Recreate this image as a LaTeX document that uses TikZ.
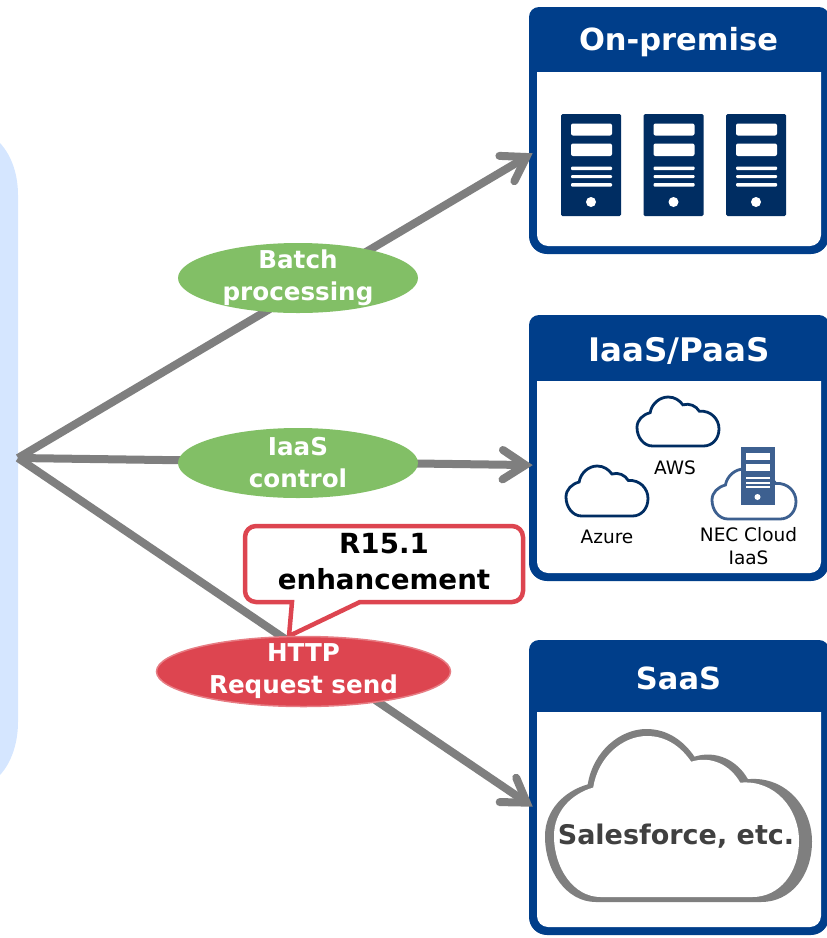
\documentclass[tikz,border=0pt]{standalone}
\usepackage{fontspec}
\setmainfont{DejaVu Sans}
\usetikzlibrary{calc,shapes.geometric}
\definecolor{navy}{HTML}{003E8A}
\definecolor{srv}{HTML}{002D62}
\definecolor{necblue}{HTML}{3D6090}
\definecolor{flow}{HTML}{7F7F7F}
\definecolor{leaf}{HTML}{82BF66}
\definecolor{alert}{HTML}{DD4550}
\definecolor{pale}{HTML}{D5E6FF}
\newcommand{\cloudshape}{(0.19,1) .. controls (0.08,1) and (0,0.82) .. (0,0.62) .. controls (0,0.47) and (0.07,0.36) .. (0.16,0.32) .. controls (0.18,0.13) and (0.28,0) .. (0.38,0) .. controls (0.46,0) and (0.52,0.07) .. (0.56,0.16) .. controls (0.64,0.12) and (0.72,0.18) .. (0.76,0.29) .. controls (0.90,0.27) and (1,0.45) .. (1,0.65) .. controls (1,0.85) and (0.92,1) .. (0.81,1) -- cycle}
\newcommand{\serverbox}[1]{%
  \begin{scope}[shift={(#1,0)}]
    \fill[srv,rounded corners=1.5pt] (561,114) rectangle (621,216);
    \fill[white,rounded corners=2pt] (571,123.5) rectangle (612,135.5);
    \fill[white,rounded corners=2pt] (571,143.5) rectangle (612,156);
    \fill[white,rounded corners=1pt] (571,166.5) rectangle (612,170);
    \fill[white,rounded corners=1pt] (571,175) rectangle (612,178);
    \fill[white,rounded corners=1pt] (571,183) rectangle (612,186.5);
    \fill[white] (591,202) circle (5);
  \end{scope}}
% #1 top of panel, #2 top of white area, #3 bottom of panel
\newcommand{\panelbox}[3]{%
  \fill[navy] (529,#1+10) .. controls (529,#1+4.5) and (533.5,#1) .. (539,#1) -- (819,#1) .. controls (824.5,#1) and (829,#1+4.5) .. (829,#1+10) -- (829,#3-18) .. controls (829,#3-8) and (821,#3) .. (811,#3) -- (547,#3) .. controls (537,#3) and (529,#3-8) .. (529,#3-18) -- cycle;
  \fill[white] (537,#2) -- (821,#2) -- (821,#3-19) .. controls (821,#3-13) and (816,#3-8) .. (810,#3-8) -- (548,#3-8) .. controls (542,#3-8) and (537,#3-13) .. (537,#3-19) -- cycle;}
\tikzset{
  x=1pt,y=-1pt,
  flowline/.style={draw=flow,line width=8pt},
  flowhead/.style={draw=flow,line width=8pt,line cap=round,line join=miter,miter limit=10},
  panelhead/.style={text=white,font=\bfseries\fontsize{30.5}{32}\selectfont,anchor=center},
  oval/.style={ellipse,inner sep=0pt},
  ovaltext/.style={align=center,text=white,inner sep=0pt,font=\bfseries\fontsize{24.6}{32}\selectfont},
  small/.style={font=\fontsize{18.5}{23}\selectfont,align=center,text=black,inner sep=0pt},
  smallcloud/.style={draw=srv,line width=2.8pt,fill=white},
}
\begin{document}
\begin{tikzpicture}
\useasboundingbox (0,0) rectangle (827,938);
% background band
\fill[pale] (0,143) .. controls (12,156) and (18,175) .. (18,195) -- (18,722) .. controls (18,742) and (12,762) .. (0,775) -- cycle;
% panels
\panelbox{7}{72}{254}
\panelbox{315}{381}{581}
\panelbox{640}{712}{935}
\node[panelhead] (onprem) at (678.5,42.5) {On-premise};
\node[panelhead,font=\bfseries\fontsize{32.5}{32}\selectfont] (iaas) at (679,350.5) {IaaS/PaaS};
\node[panelhead] (saas) at (678.5,678.5) {SaaS};
% connectors
\coordinate (hub) at (18,458);
\coordinate (tipA) at (526.4,157);
\coordinate (tipB) at (525.4,465);
\coordinate (tipC) at (526.7,802.6);
\draw[flowline] (hub) -- (tipA);
\draw[flowline] (hub) -- (tipB);
\draw[flowline] (hub) -- (tipC);
\draw[flowhead] ($(tipA)!27pt!33:(hub)$) -- (tipA) -- ($(tipA)!27pt!-33:(hub)$);
\draw[flowhead] ($(tipB)!27pt!33:(hub)$) -- (tipB) -- ($(tipB)!27pt!-33:(hub)$);
\draw[flowhead] ($(tipC)!27pt!33:(hub)$) -- (tipC) -- ($(tipC)!27pt!-33:(hub)$);
% servers
\serverbox{0}
\serverbox{82.5}
\serverbox{165}
% small clouds
\begin{scope}[shift={(637,397)},xscale=82,yscale=49]
  \path[smallcloud] \cloudshape;
\end{scope}
\begin{scope}[shift={(566,466)},xscale=82,yscale=50]
  \path[smallcloud] \cloudshape;
\end{scope}
\begin{scope}[shift={(712,469)},xscale=84,yscale=50]
  \path[draw=necblue,line width=2.8pt,fill=white] \cloudshape;
\end{scope}
\fill[necblue] (741,447) rectangle (775,505);
\fill[white] (745.5,452.5) rectangle (770,460);
\fill[white] (745.5,464) rectangle (770,471);
\fill[white] (745.5,477) rectangle (770,479);
\fill[white] (745.5,482) rectangle (770,484);
\fill[white] (745.5,486) rectangle (770,488);
\fill[white] (757.5,497) circle (3);
\node[small] (aws) at (675,468) {AWS};
\node[small] (azure) at (607,537) {Azure};
\node[small] (nec) at (748.5,546.5) {NEC Cloud\\IaaS};
% big cloud
\begin{scope}[shift={(545,729)},xscale=267,yscale=173]
  \fill[flow] \cloudshape;
\end{scope}
\begin{scope}[shift={(554,736)},xscale=245,yscale=161]
  \fill[white] \cloudshape;
\end{scope}
\node[font=\bfseries\fontsize{27}{30}\selectfont,text=black!75] (sf) at (676,836.5) {Salesforce, etc.};
% ovals
\node[oval,fill=leaf,minimum width=240pt,minimum height=70pt] (batch) at (298,278) {};
\node[ovaltext] (batchtxt) at (298,278) {Batch\\processing};
\node[oval,fill=leaf,minimum width=240pt,minimum height=70pt] (ctrl) at (298,463) {};
\node[ovaltext] (ctrltxt) at (298,463) {IaaS\\control};
% callout
\draw[draw=alert,line width=4.5pt,fill=white,rounded corners=11pt]
  (245,526) -- (523,526) -- (523,602) -- (400,602)
  [sharp corners] -- (360,602) -- (289,636) -- (292,602) -- (280,602)
  [rounded corners=11pt] -- (245,602) -- cycle;
\node[font=\bfseries\fontsize{27.7}{36}\selectfont,align=center,text=black,inner sep=0pt] (r151) at (384,562) {R15.1\\enhancement};
\node[oval,fill=alert,draw=alert!70!white,line width=1.5pt,minimum width=294pt,minimum height=70pt] (http) at (303.5,671.5) {};
\node[ovaltext] (httptxt) at (303.5,671.5) {HTTP\\Request send};
\end{tikzpicture}
\end{document}
